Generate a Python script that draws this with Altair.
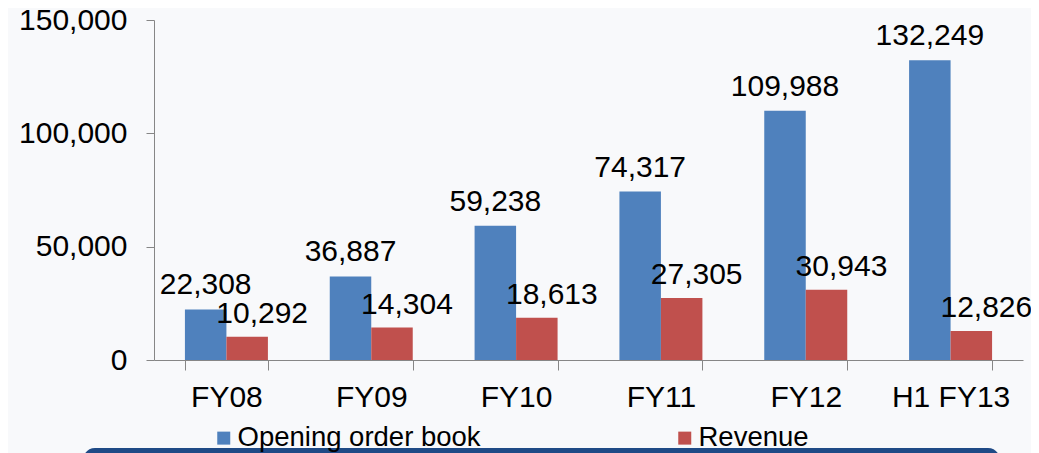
import altair as alt
import pandas as pd

categories = ["FY08", "FY09", "FY10", "FY11", "FY12", "H1 FY13"]
opening = [22308, 36887, 59238, 74317, 109988, 132249]
revenue = [10292, 14304, 18613, 27305, 30943, 12826]
series = ["Opening order book", "Revenue"]
colors = ["#4F81BD", "#C0504D"]
y_ticks = [0, 50000, 100000, 150000]

rows = []
for c, o, r in zip(categories, opening, revenue):
    rows.append({"cat": c, "series": series[0], "value": o})
    rows.append({"cat": c, "series": series[1], "value": r})
df = pd.DataFrame(rows)

FONT = "Liberation Sans"

x_enc = alt.X(
    "cat:N", sort=categories, title=None,
    scale=alt.Scale(paddingInner=0.427, paddingOuter=0.2135),
    axis=alt.Axis(
        labelAngle=0, labelFontSize=30, labelFont=FONT, labelColor="#000000",
        tickBand="extent", tickSize=10, tickColor="#868686",
        domainColor="#868686", labelPadding=12, grid=False,
    ),
)
xo_enc = alt.XOffset("series:N", sort=series, scale=alt.Scale(paddingInner=0, paddingOuter=0))
y_enc = alt.Y(
    "value:Q", title=None,
    scale=alt.Scale(domain=[0, 150000], nice=False),
    axis=alt.Axis(
        values=y_ticks, format=",.0f", labelFontSize=30, labelFont=FONT,
        labelColor="#000000", tickSize=8, tickColor="#868686",
        domainColor="#868686", labelPadding=19, grid=False,
    ),
)

base = alt.Chart(df)

bars = base.mark_bar().encode(
    x=x_enc,
    xOffset=xo_enc,
    y=y_enc,
    color=alt.Color(
        "series:N", sort=series, title=None,
        scale=alt.Scale(domain=series, range=colors),
        legend=alt.Legend(
            orient="none", legendX=56, legendY=404, direction="horizontal",
            columns=2, symbolType="square", symbolSize=169,
            symbolStrokeWidth=0, labelFontSize=27.5, labelFont=FONT,
            labelColor="#000000", labelOffset=0, columnPadding=190,
            labelLimit=400,
        ),
    ),
)

lab_open = base.transform_filter(alt.datum.series == series[0]).mark_text(
    font=FONT, fontSize=30, color="#000000", baseline="alphabetic", dy=-15
).encode(x=x_enc, xOffset=xo_enc, y=y_enc, text=alt.Text("value:Q", format=","))

lab_rev = base.transform_filter(alt.datum.series == series[1]).mark_text(
    font=FONT, fontSize=30, color="#000000", baseline="alphabetic", dy=-14, dx=15
).encode(x=x_enc, xOffset=xo_enc, y=y_enc, text=alt.Text("value:Q", format=","))

band = alt.Chart(pd.DataFrame({"a": [0]})).mark_rect(
    color="#1F4A86", cornerRadius=12
).encode(x=alt.value(-71), x2=alt.value(846), y=alt.value(428), y2=alt.value(460))

chart = alt.layer(band, bars, lab_open, lab_rev).properties(
    width=869, height=340,
    autosize=alt.AutoSizeParams(type="none"),
    padding={"left": 146, "top": 12, "right": 8, "bottom": 93},
    background="#F8F9FB",
).configure_view(stroke=None)

chart.save("out.html", embed_options={"renderer": "svg", "actions": False})
